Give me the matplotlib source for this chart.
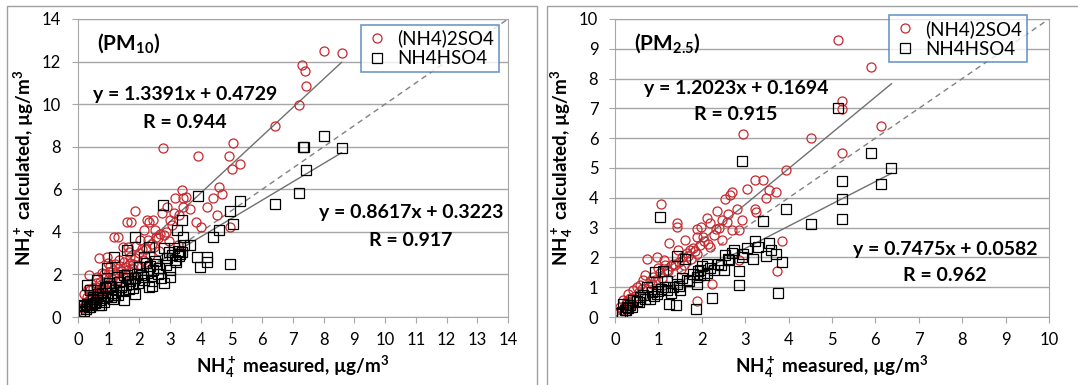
import matplotlib
matplotlib.use("Agg")
import matplotlib.pyplot as plt
from matplotlib.patches import Rectangle

plt.rcParams["font.family"] = ["Lato", "DejaVu Sans"]
plt.rcParams["mathtext.default"] = "regular"

# ---- PM10 data (measured, calculated) ----
pm10_as_x = [8.02, 8.58, 7.29, 7.38, 7.42, 7.21, 6.41, 2.77, 3.91, 4.93, 5.05, 5.00, 5.29,
             4.58, 4.69, 4.38, 3.39, 3.42, 3.17, 3.64, 4.20, 4.53, 3.84, 4.00, 4.94, 1.87,
             1.60, 1.18, 2.30, 2.25, 2.74, 2.90, 3.12, 3.01, 2.68, 2.52, 2.14, 2.03, 1.47,
             0.94, 0.67, 0.35, 0.18, 1.73, 2.43, 1.29, 1.62, 3.52, 3.41, 3.30, 3.05, 2.85,
             2.60, 2.40, 2.20, 2.00, 1.85, 1.70, 1.55, 1.40, 1.25, 1.10, 0.95, 0.80, 0.70,
             0.55, 0.45, 0.35, 0.28, 0.22, 0.15, 1.95, 1.75, 1.50, 1.30, 1.15, 1.00, 0.85,
             0.60, 0.50, 2.35, 2.10, 1.90, 1.65, 1.45, 1.20, 1.05, 0.75, 0.40, 0.30, 2.65,
             2.95, 3.25, 0.90, 0.65, 0.25, 0.42, 0.58, 0.72, 0.88, 1.02, 1.12, 1.35, 1.52,
             1.68, 1.80, 2.08, 2.28, 2.48, 0.32, 0.48, 0.62, 0.78, 0.98, 1.38, 1.58, 1.78,
             2.18, 2.55, 2.80]
pm10_as_y = [12.51, 12.40, 11.82, 11.58, 10.86, 9.97, 8.95, 7.96, 7.57, 7.57, 8.16, 6.95, 7.19,
             6.09, 5.78, 5.59, 5.96, 5.59, 5.59, 5.07, 5.15, 4.79, 4.47, 4.24, 4.24, 4.99,
             4.47, 3.77, 4.47, 4.55, 4.87, 5.18, 4.87, 4.55, 3.92, 4.08, 4.08, 3.61, 3.30,
             2.83, 2.75, 1.96, 1.10, 4.48, 4.56, 3.77, 3.30, 5.65, 5.18, 4.80, 4.30, 4.00,
             3.70, 3.45, 3.20, 3.00, 2.75, 2.55, 2.35, 2.15, 2.00, 1.80, 1.65, 1.45, 1.30,
             1.15, 0.95, 0.80, 0.65, 0.50, 0.40, 2.45, 2.30, 2.60, 1.75, 2.20, 1.45, 2.00,
             1.60, 1.35, 2.90, 2.70, 3.35, 3.05, 1.90, 2.50, 2.40, 1.10, 1.25, 0.95, 3.10,
             3.55, 3.40, 1.25, 0.90, 0.70, 1.05, 1.40, 1.65, 1.85, 2.10, 1.60, 2.70, 2.05,
             2.80, 2.50, 3.20, 3.60, 3.30, 1.30, 0.75, 1.90, 2.05, 2.55, 2.40, 1.95, 2.25,
             2.60, 3.75, 3.85]

pm10_ab_x = [8.02, 7.31, 7.37, 8.58, 7.42, 7.21, 6.41, 5.29, 4.96, 5.04, 4.94, 4.60, 4.41,
             3.91, 2.77, 3.39, 3.22, 3.42, 3.64, 1.87, 1.60, 1.18, 0.29, 3.88, 3.96, 4.20,
             4.20, 3.01, 2.79, 2.41, 2.30, 1.87, 1.49, 2.30, 2.79, 3.12, 3.33, 3.17, 2.90,
             2.57, 2.14, 1.92, 1.27, 0.94, 0.62, 0.40, 0.13, 0.08, 3.40, 3.30, 3.20, 3.05,
             2.85, 2.65, 2.45, 2.25, 2.05, 1.85, 1.70, 1.55, 1.40, 1.25, 1.10, 0.95, 0.80,
             0.70, 0.55, 0.45, 0.35, 0.25, 0.18, 2.00, 1.75, 1.50, 1.30, 1.05, 0.85, 0.65,
             0.50, 2.60, 2.35, 2.15, 1.95, 1.65, 1.35, 1.15, 0.90, 0.75, 0.58, 0.42, 3.45,
             2.70, 3.00, 2.50, 0.20, 0.30, 0.48, 0.62, 0.78, 0.88, 1.00, 1.20, 1.45, 1.62,
             1.80, 2.10, 2.40, 2.95, 3.25, 0.38, 0.68, 1.08, 1.58, 2.20]
pm10_ab_y = [8.51, 8.00, 7.97, 7.96, 6.91, 5.81, 5.31, 5.43, 4.99, 4.39, 2.51, 4.08, 3.77,
             5.68, 5.27, 4.55, 4.08, 3.77, 3.37, 3.77, 3.14, 2.83, 1.49, 2.83, 2.35, 2.83,
             2.59, 1.88, 1.60, 1.44, 1.41, 1.10, 0.78, 3.30, 3.22, 3.22, 2.98, 2.67, 2.75,
             2.51, 2.83, 2.04, 1.88, 2.28, 1.73, 1.26, 0.55, 0.24, 3.05, 2.85, 2.60, 2.90,
             2.45, 2.30, 2.20, 2.05, 1.95, 1.85, 1.70, 1.50, 1.40, 1.25, 1.15, 1.00, 0.90,
             0.80, 0.65, 0.55, 0.45, 0.38, 0.30, 2.35, 1.55, 1.95, 1.05, 1.45, 0.70, 1.10,
             0.95, 2.00, 2.40, 1.75, 1.60, 1.30, 1.65, 0.85, 1.35, 0.55, 0.70, 0.60, 3.40,
             1.85, 2.20, 2.65, 0.50, 0.60, 0.85, 0.95, 1.15, 1.40, 1.60, 1.05, 1.20, 1.85,
             1.35, 1.90, 1.70, 3.05, 3.10, 0.45, 0.55, 0.95, 1.95, 2.55]

# ---- PM2.5 data ----
pm25_as_x = [5.13, 5.89, 5.22, 5.22, 6.14, 4.51, 2.96, 5.24, 3.93, 3.03, 3.23, 3.40, 3.54,
             3.72, 3.49, 2.69, 2.53, 2.65, 3.23, 3.26, 2.34, 2.80, 2.92, 2.46, 2.57, 2.69,
             2.86, 2.11, 2.19, 1.99, 1.88, 1.05, 1.42, 1.42, 1.61, 1.25, 0.96, 0.73, 3.84,
             3.74, 1.88, 2.86, 2.23, 0.31, 0.50, 1.65, 1.80, 2.27, 2.46, 2.19, 1.88, 1.34,
             1.19, 1.04, 0.88, 0.65, 0.58, 0.42, 0.19, 0.12, 2.05, 1.95, 1.72, 1.55, 1.48,
             1.30, 1.12, 0.98, 0.80, 0.70, 0.35, 0.25, 2.40, 2.60, 1.90, 1.60, 0.15, 0.28,
             0.45, 0.62, 0.85, 1.08, 1.22, 1.38, 1.52, 1.68, 1.85, 2.02, 2.15, 2.32, 0.38,
             0.55, 0.92, 1.15, 1.45, 1.75]
pm25_as_y = [9.28, 8.39, 7.25, 6.97, 6.41, 6.00, 6.14, 5.52, 4.93, 4.30, 4.60, 4.60, 4.26,
             4.19, 4.01, 4.20, 3.95, 4.09, 3.64, 3.53, 3.55, 3.61, 3.25, 3.25, 3.20, 2.91,
             2.91, 3.31, 3.14, 3.03, 2.69, 3.79, 3.16, 3.03, 2.58, 2.47, 2.02, 1.96, 2.54,
             1.55, 0.54, 1.91, 1.12, 0.78, 1.01, 2.14, 2.30, 2.75, 2.58, 2.35, 2.13, 1.79,
             1.57, 1.46, 1.35, 1.23, 1.07, 0.90, 0.56, 0.34, 2.55, 2.40, 2.25, 2.00, 1.85,
             1.70, 1.90, 1.65, 1.20, 1.40, 0.65, 0.45, 3.00, 3.45, 2.95, 1.75, 0.25, 0.55,
             0.70, 0.95, 1.10, 1.30, 1.55, 1.75, 1.60, 2.05, 2.20, 2.70, 2.45, 2.95, 0.40,
             0.85, 1.25, 1.75, 2.25, 1.95]

pm25_ab_x = [5.13, 2.93, 5.89, 6.37, 5.22, 6.14, 5.22, 5.24, 3.93, 3.40, 4.51, 1.04, 3.23,
             3.54, 3.72, 3.84, 3.49, 3.19, 2.92, 2.85, 2.85, 3.75, 2.23, 1.87, 1.41, 1.25,
             1.42, 1.61, 0.92, 1.11, 2.53, 2.69, 2.50, 2.27, 2.11, 1.96, 1.88, 1.65, 1.42,
             1.34, 1.19, 0.96, 0.73, 0.58, 0.42, 0.27, 0.15, 0.19, 1.88, 2.11, 2.38, 3.03,
             3.30, 2.00, 1.80, 1.55, 1.20, 1.05, 0.85, 0.65, 0.50, 0.35, 0.22, 2.20, 2.60,
             2.75, 1.95, 1.50, 0.80, 0.30, 0.12, 0.25, 0.40, 0.55, 0.70, 0.90, 1.00, 1.15,
             1.30, 1.48, 1.70, 1.92, 2.05, 2.45, 2.62, 2.95, 3.60]
pm25_ab_y = [7.01, 5.25, 5.52, 5.01, 4.57, 4.46, 3.95, 3.28, 3.64, 3.22, 3.12, 3.36, 2.56,
             2.47, 2.11, 1.83, 2.04, 1.96, 2.02, 1.55, 1.09, 0.82, 0.65, 0.28, 0.39, 0.45,
             2.04, 1.93, 1.51, 1.55, 2.07, 2.15, 1.57, 1.57, 1.79, 1.57, 1.35, 1.23, 1.12,
             1.01, 0.90, 0.78, 1.01, 0.67, 0.56, 0.34, 0.17, 0.45, 1.12, 1.46, 1.79, 2.30,
             2.35, 1.70, 1.45, 1.30, 1.20, 0.95, 0.85, 0.75, 0.55, 0.40, 0.25, 1.65, 1.95,
             2.25, 1.40, 0.90, 0.60, 0.30, 0.15, 0.22, 0.35, 0.50, 0.62, 0.70, 0.88, 1.00,
             0.80, 1.05, 1.20, 1.55, 1.40, 1.75, 1.90, 2.10, 2.25]

RED = "#c8282d"
GRID = "#a6a6a6"


def draw_panel(ax, lim, xs_as, ys_as, xs_ab, ys_ab, fit_as, fit_ab, tag, txt_as, txt_ab, leg_anchor):
    ax.set_xlim(0, lim)
    ax.set_ylim(0, lim)
    ax.set_xticks(range(0, lim + 1))
    ax.set_yticks(range(0, lim + 1, 2 if lim > 10 else 1))
    ax.yaxis.grid(True, color=GRID, lw=1.0)
    ax.set_axisbelow(True)
    for s in ax.spines.values():
        s.set_color(GRID)
    ax.tick_params(colors="black", labelsize=12, length=4, color=GRID)
    ax.tick_params(axis="x", pad=7)
    ax.tick_params(axis="y", pad=8)

    ax.plot([0, lim], [0, lim], ls=(0, (4, 3)), color="#808080", lw=1.0)
    x0 = min(xs_as + xs_ab)
    x1 = max(xs_as + xs_ab)
    for a, b in (fit_as, fit_ab):
        ax.plot([x0, x1], [a * x0 + b, a * x1 + b], color="#707070", lw=1.0)

    ax.plot(xs_as, ys_as, "o", ms=6.5, mfc="none", mec=RED, mew=0.9, label="(NH4)2SO4")
    ax.plot(xs_ab, ys_ab, "s", ms=6.8, mfc="none", mec="black", mew=0.9, label="NH4HSO4")

    leg = ax.legend(loc="upper right", bbox_to_anchor=leg_anchor, fontsize=13.5, frameon=True,
                    fancybox=False, borderpad=0.25, handletextpad=0.5, labelspacing=0.15,
                    handlelength=1.2, borderaxespad=0)
    leg.get_frame().set_edgecolor("#4a7ebb")
    leg.get_frame().set_linewidth(1.2)

    ax.text(0.044, 0.919, tag, transform=ax.transAxes, fontsize=15, fontweight="bold",
            va="center", ha="left")
    for (s, x, y) in txt_as + txt_ab:
        ax.text(x, y, s, transform=ax.transAxes, fontsize=14, fontweight="bold",
                ha="center", va="center")

    ax.set_xlabel("NH$_4^+$ measured, µg/m$^3$", fontsize=13.5, fontweight="bold", labelpad=4)
    ax.set_ylabel("NH$_4^+$ calculated, µg/m$^3$", fontsize=13.5, fontweight="bold", labelpad=3)


fig = plt.figure(figsize=(10.78, 3.85), dpi=100)
fig.patches.append(Rectangle((7 / 1078, -0.01), 530 / 1078, 1 - 6 / 385 + 0.01, transform=fig.transFigure,
                             fill=False, ec="#a0a0a0", lw=1.0))
fig.patches.append(Rectangle((547 / 1078, -0.01), 540 / 1078, 1 - 6 / 385 + 0.01, transform=fig.transFigure,
                             fill=False, ec="#a0a0a0", lw=1.0))

ax1 = fig.add_axes([78 / 1078, 68 / 385, 430 / 1078, 298 / 385])
draw_panel(ax1, 14, pm10_as_x, pm10_as_y, pm10_ab_x, pm10_ab_y,
           (1.3391, 0.4729), (0.8617, 0.3223), "(PM$_{10}$)",
           [("y = 1.3391x + 0.4729", 0.249, 0.745), ("R = 0.944", 0.249, 0.654)],
           [("y = 0.8617x + 0.3223", 0.774, 0.349), ("R = 0.917", 0.774, 0.258)],
           (0.979, 0.98))

ax2 = fig.add_axes([615 / 1078, 68 / 385, 434 / 1078, 298 / 385])
draw_panel(ax2, 10, pm25_as_x, pm25_as_y, pm25_ab_x, pm25_ab_y,
           (1.2023, 0.1694), (0.7475, 0.0582), "(PM$_{2.5}$)",
           [("y = 1.2023x + 0.1694", 0.279, 0.768), ("R = 0.915", 0.279, 0.678)],
           [("y = 0.7475x + 0.0582", 0.760, 0.228), ("R = 0.962", 0.760, 0.138)],
           (0.949, 1.013))

fig.savefig("out.png", dpi=100)
